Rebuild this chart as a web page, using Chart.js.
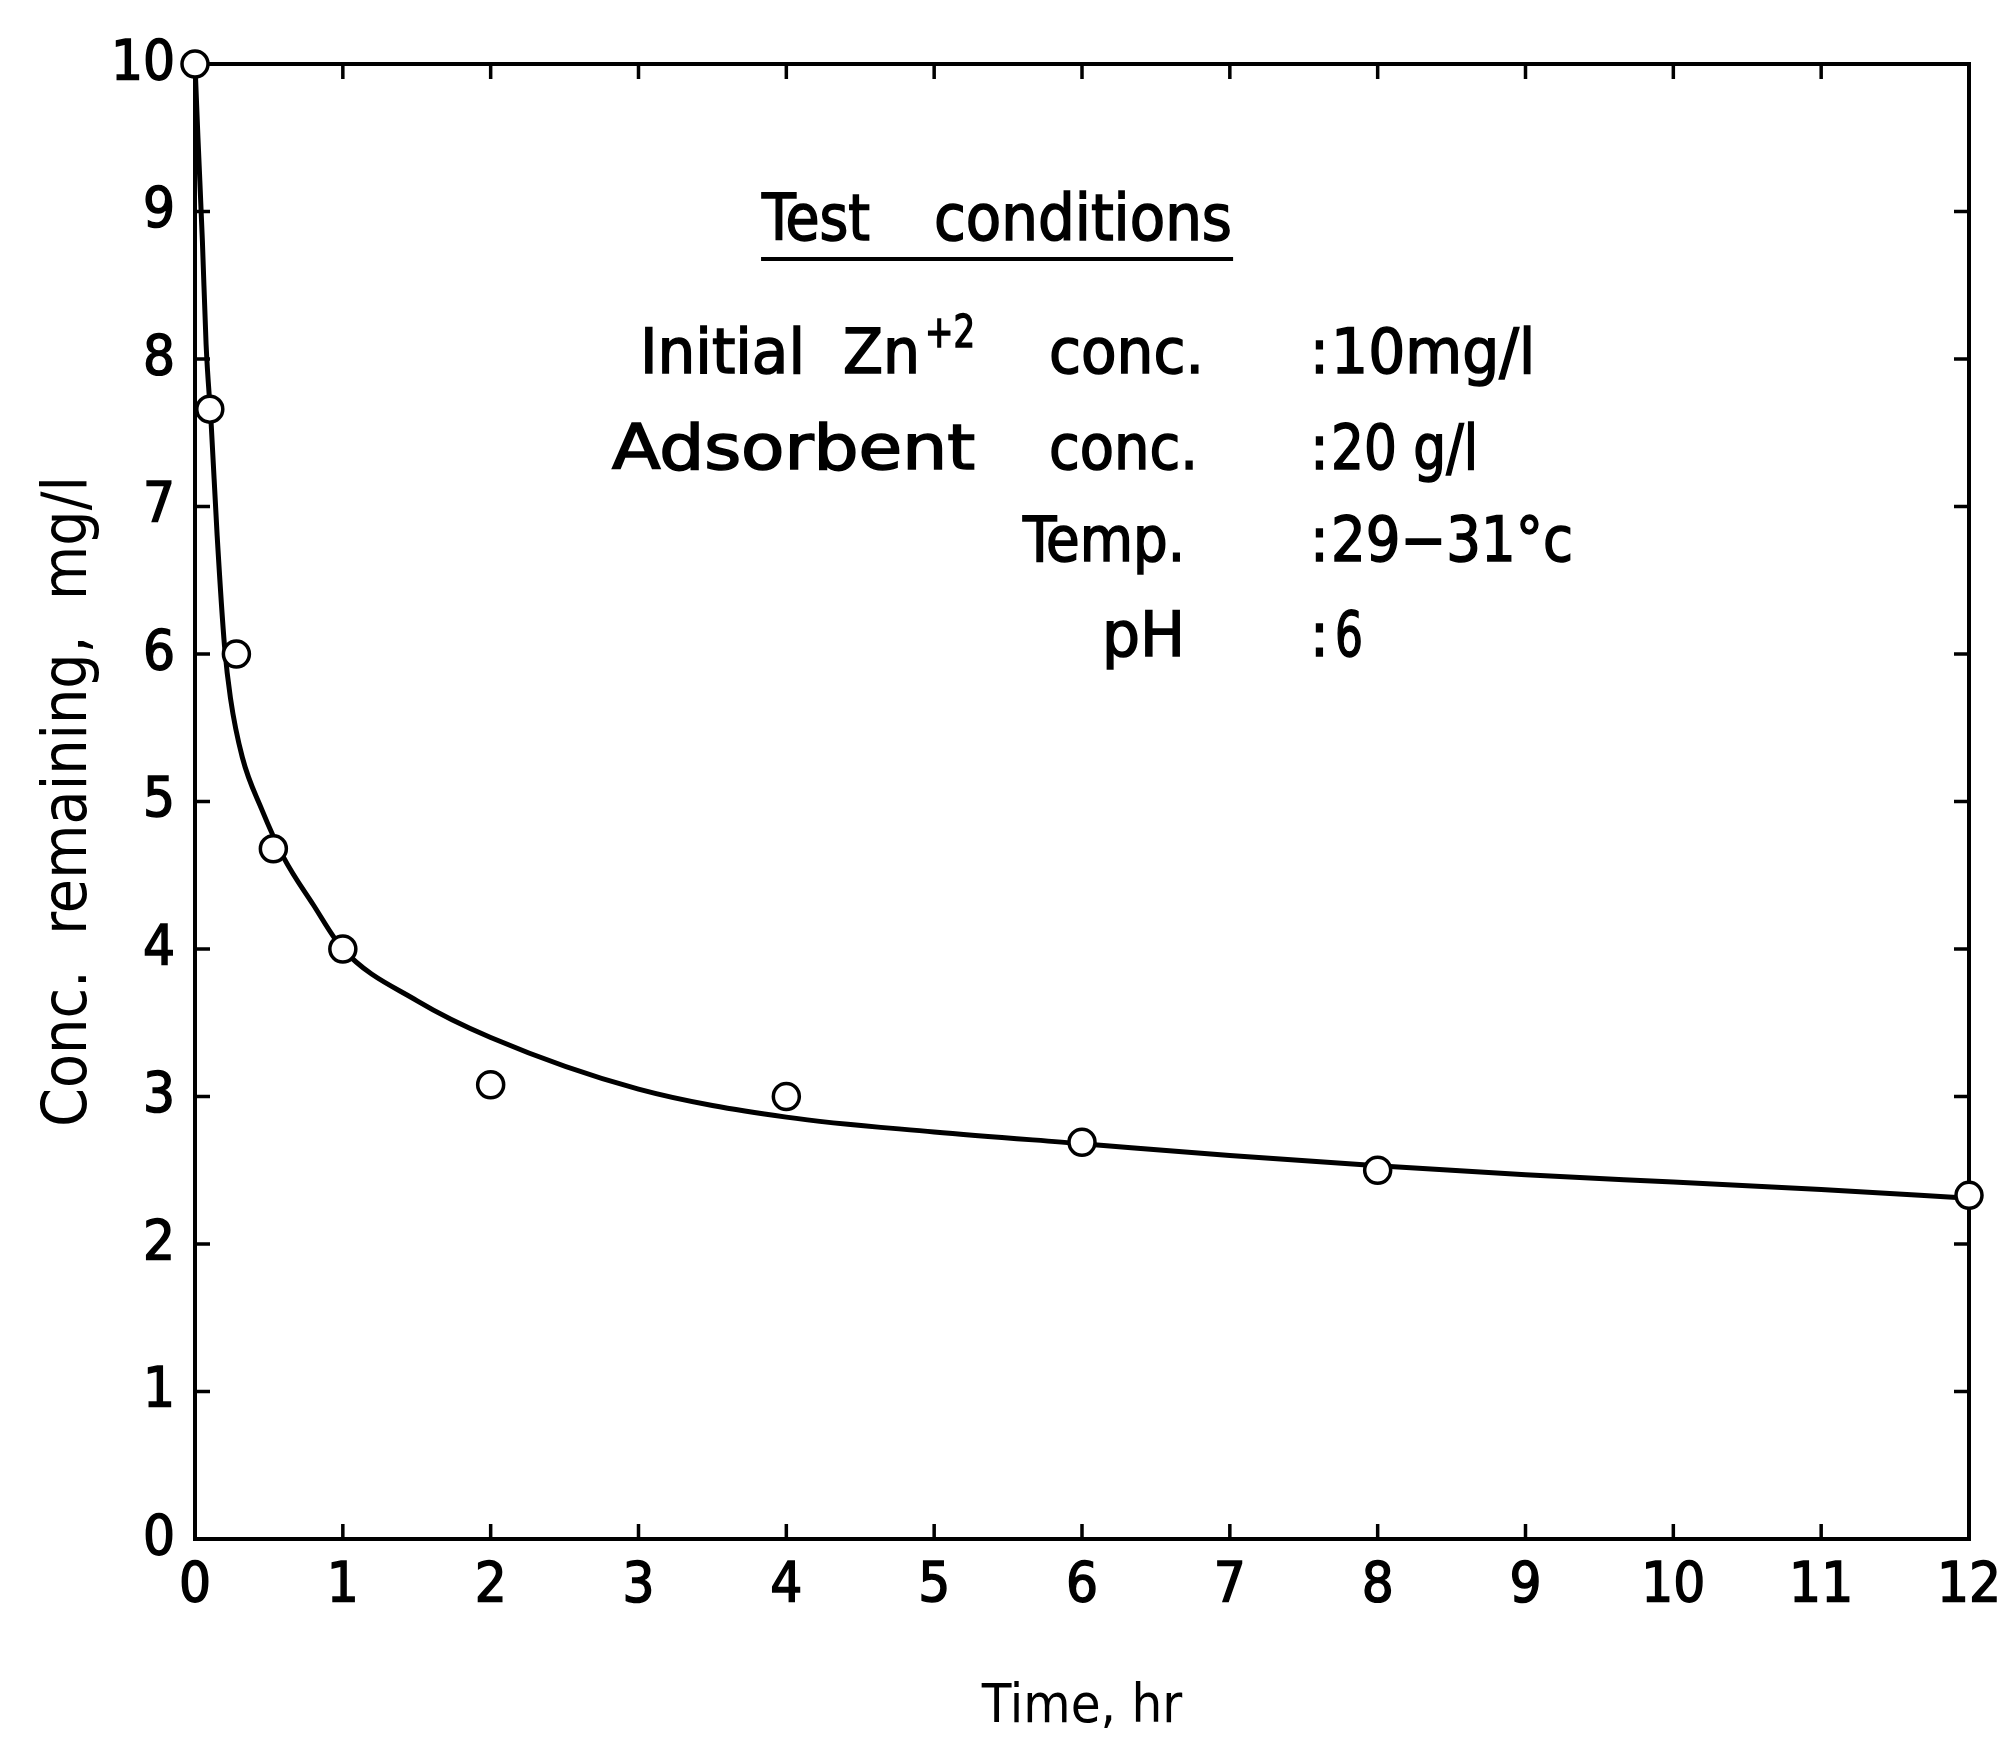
<!DOCTYPE html>
<html><head><meta charset="utf-8">
<script src="https://cdn.jsdelivr.net/npm/chart.js@4.4.0/dist/chart.umd.min.js"></script>
<style>html,body{margin:0;padding:0;background:#fff}#wrap{width:1998px;height:1740px}</style>
</head><body><div id="wrap"><canvas id="c" width="1998" height="1740"></canvas></div>
<script>
// ---- data ----
const timePoints = [0, 0.1, 0.28, 0.53, 1, 2, 4, 6, 8, 12];
const concPoints = [10, 7.66, 6.0, 4.68, 4.0, 3.08, 3.0, 2.69, 2.5, 2.33];
const curveTime = [0, 0.02, 0.05, 0.075, 0.11, 0.15, 0.2, 0.24, 0.32, 0.45, 0.6, 0.8, 1, 1.5, 2, 3, 4, 5, 6, 7, 8, 9, 10, 11, 12];
const curveConc = [10, 9.5, 8.8, 8.1, 7.55, 6.8, 6.05, 5.7, 5.3, 4.95, 4.62, 4.3, 4.0, 3.65, 3.4, 3.05, 2.86, 2.76, 2.68, 2.6, 2.53, 2.47, 2.42, 2.37, 2.31];
const xTickValues = [0, 1, 2, 3, 4, 5, 6, 7, 8, 9, 10, 11, 12];
const yTickValues = [0, 1, 2, 3, 4, 5, 6, 7, 8, 9, 10];
const xTitle = 'Time, hr';
const yTitle = 'Conc.  remaining,  mg/l';
const noteHeading = ['Test', 'conditions'];
const noteLabels = ['Initial', 'Zn', '+2', 'conc.', 'Adsorbent', 'conc.', 'Temp.', 'pH'];
const noteValues = ['10mg/l', '20 g/l', '29\u221231\u00b0c', '6'];

// ---- layout of the note (in axis units) ----
const FONT = '"DejaVu Sans Condensed", "DejaVu Sans", sans-serif';
const NARROW = '"Liberation Sans Narrow", "DejaVu Sans Condensed", sans-serif';
const headingPlace = [[3.836, 4.566, 8.81], [4.999, 7.015, 8.81]];
const underlinePlace = [3.829, 7.022, 8.678];
const labelPlace = [
  [3.010, 4.126, 7.905, 62], [4.383, 4.904, 7.905, 62], [4.938, 5.276, 8.081, 44], [5.777, 6.825, 7.905, 62],
  [2.821, 5.276, 7.254, 62], [5.777, 6.785, 7.254, 62],
  [5.601, 6.697, 6.631, 62], [6.135, 6.697, 5.986, 62]
];
const colonX = 7.542;
const rowY = [7.905, 7.254, 6.631, 5.986];
const valuePlace = [[7.685, 9.065], [7.685, 8.679], [7.685, 9.322], [7.712, 7.901]];

function fitText(ctx, text, x0, x1, y, size) {
  ctx.font = size + 'px ' + FONT;
  const m = ctx.measureText(text).width;
  ctx.save();
  ctx.translate(x0, y);
  ctx.scale((x1 - x0) / m, 1);
  ctx.fillText(text, 0, 0);
  ctx.strokeText(text, 0, 0);
  ctx.restore();
}

const framePlugin = {
  id: 'frame',
  beforeDatasetsDraw(chart) {
    const {ctx, chartArea: a, scales: {x, y}} = chart;
    ctx.save();
    ctx.strokeStyle = '#000';
    ctx.lineWidth = 4;
    ctx.strokeRect(a.left, a.top, a.right - a.left, a.bottom - a.top);
    ctx.lineWidth = 3.5;
    const L = 15;
    ctx.beginPath();
    xTickValues.forEach(v => {
      const px = x.getPixelForValue(v);
      ctx.moveTo(px, a.bottom); ctx.lineTo(px, a.bottom - L);
      ctx.moveTo(px, a.top); ctx.lineTo(px, a.top + L);
    });
    yTickValues.forEach(v => {
      const py = y.getPixelForValue(v);
      ctx.moveTo(a.left, py); ctx.lineTo(a.left + L, py);
      ctx.moveTo(a.right, py); ctx.lineTo(a.right - L, py);
    });
    ctx.stroke();
    ctx.restore();
  },
  afterDraw(chart) {
    const {ctx, scales: {x, y}} = chart;
    const X = v => x.getPixelForValue(v), Y = v => y.getPixelForValue(v);
    ctx.save();
    ctx.fillStyle = '#000';
    ctx.strokeStyle = '#000';
    ctx.lineWidth = 1.5;
    ctx.textBaseline = 'alphabetic';
    ctx.textAlign = 'left';
    noteHeading.forEach((t, i) => {
      const p = headingPlace[i];
      fitText(ctx, t, X(p[0]), X(p[1]), Y(p[2]), 64);
    });
    ctx.fillRect(X(underlinePlace[0]), Y(underlinePlace[2]) - 2, X(underlinePlace[1]) - X(underlinePlace[0]), 4);
    noteLabels.forEach((t, i) => {
      const p = labelPlace[i];
      fitText(ctx, t, X(p[0]), X(p[1]), Y(p[2]), p[3]);
    });
    ctx.font = '62px ' + FONT;
    rowY.forEach(r => { ctx.fillText(':', X(colonX), Y(r)); ctx.strokeText(':', X(colonX), Y(r)); });
    noteValues.forEach((t, i) => {
      const p = valuePlace[i];
      fitText(ctx, t, X(p[0]), X(p[1]), Y(rowY[i]), 62);
    });
    ctx.restore();
  }
};

const tickFont = {family: FONT, size: 56};
new Chart(document.getElementById('c'), {
  type: 'line',
  data: {
    datasets: [
      {
        type: 'scatter',
        data: timePoints.map((t, i) => ({x: t, y: concPoints[i]})),
        pointStyle: 'circle', pointRadius: 13, pointBorderWidth: 3.5,
        pointBackgroundColor: '#fff', pointBorderColor: '#000',
        showLine: false, clip: false, order: 0
      },
      {
        type: 'line',
        data: curveTime.map((t, i) => ({x: t, y: curveConc[i]})),
        borderColor: '#000', borderWidth: 5, pointRadius: 0,
        cubicInterpolationMode: 'monotone', fill: false, clip: false, order: 1
      }
    ]
  },
  options: {
    responsive: false, animation: false, devicePixelRatio: 1,
    layout: {padding: {left: 0, right: 29, top: 64, bottom: 0}},
    plugins: {legend: {display: false}, tooltip: {enabled: false}},
    scales: {
      x: {
        type: 'linear', min: 0, max: 12,
        afterBuildTicks: s => { s.ticks = xTickValues.map(v => ({value: v})); },
        afterFit: s => { s.height = 201; s.paddingLeft = 0; s.paddingRight = 0; },
        grid: {display: false, drawTicks: false},
        border: {display: false},
        ticks: {padding: 14, font: tickFont, color: '#000', maxRotation: 0, autoSkip: false, textStrokeColor: '#000', textStrokeWidth: 1.5},
        title: {display: true, text: xTitle, color: '#000', font: {family: NARROW, size: 54}, padding: {top: 0, bottom: 0}}
      },
      y: {
        type: 'linear', min: 0, max: 10,
        afterBuildTicks: s => { s.ticks = yTickValues.map(v => ({value: v})); },
        afterFit: s => { s.width = 195; s.paddingTop = 0; s.paddingBottom = 0; },
        grid: {display: false, drawTicks: false},
        border: {display: false},
        ticks: {padding: 20, font: tickFont, color: '#000', autoSkip: false, textStrokeColor: '#000', textStrokeWidth: 1.5},
        title: {display: true, text: yTitle, color: '#000', font: {family: FONT, size: 62}, padding: {top: 33, bottom: 0}}
      }
    }
  },
  plugins: [framePlugin]
});
</script>
</body></html>
